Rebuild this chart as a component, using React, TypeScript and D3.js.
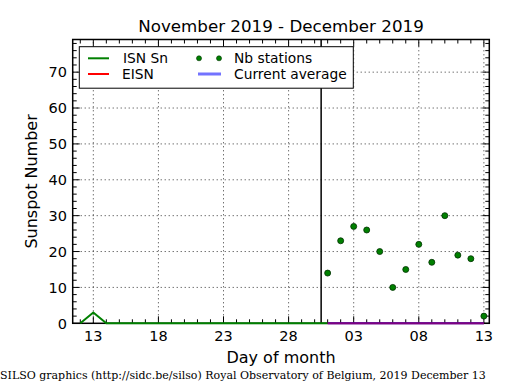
import React, { useEffect, useRef } from 'react';
import * as d3 from 'd3';

// ISN Sn daily values (Nov 12 .. Dec 1)
const isnDays = ["2019-11-12", "2019-11-13", "2019-11-14", "2019-11-15", "2019-11-16", "2019-11-17", "2019-11-18",
	"2019-11-19", "2019-11-20", "2019-11-21", "2019-11-22", "2019-11-23", "2019-11-24", "2019-11-25", "2019-11-26",
	"2019-11-27", "2019-11-28", "2019-11-29", "2019-11-30", "2019-12-01"];
const isnValues = [0, 3, 0, 0, 0, 0, 0, 0, 0, 0, 0, 0, 0, 0, 0, 0, 0, 0, 0, 0];

// EISN / Nb stations / current average (Dec 1 .. Dec 13)
const decDays = ["2019-12-01", "2019-12-02", "2019-12-03", "2019-12-04", "2019-12-05", "2019-12-06", "2019-12-07",
	"2019-12-08", "2019-12-09", "2019-12-10", "2019-12-11", "2019-12-12", "2019-12-13"];
const eisnValues = [0, 0, 0, 0, 0, 0, 0, 0, 0, 0, 0, 0, 0];
const avgValues = [0, 0, 0, 0, 0, 0, 0, 0, 0, 0, 0, 0, 0];
const stationValues = [14, 23, 27, 26, 20, 10, 15, 22, 17, 30, 19, 18, 2];

const xTickDays = ["2019-11-13", "2019-11-18", "2019-11-23", "2019-11-28", "2019-12-03", "2019-12-08", "2019-12-13"];
const yTicks = [0, 10, 20, 30, 40, 50, 60, 70];
const monthSplit = "2019-11-30T12:00";

const parse = (s: string) => new Date(s.length > 10 ? s + ":00Z" : s + "T00:00:00Z");

const drawChart = (node: SVGSVGElement) => {
	const width = 515;
	const height = 390;
	const margin = { top: 39.5, right: 25.7, bottom: 66.7, left: 72.7 };
	const font = "'DejaVu Sans', sans-serif";

	const svg = d3.select(node);
	svg.selectAll("*").remove();
	svg.attr("width", width).attr("height", height);

	svg.append("rect").attr("width", width).attr("height", height).attr("fill", "#ffffff");

	const x = d3.scaleUtc()
		.domain([new Date(Date.UTC(2019, 10, 11, 10, 0)), new Date(Date.UTC(2019, 11, 13, 10, 0))])
		.range([margin.left, width - margin.right]);

	const y = d3.scaleLinear()
		.domain([0, 79.1])
		.range([height - margin.bottom, margin.top]);

	const x0 = margin.left, x1 = width - margin.right;
	const y0 = height - margin.bottom, y1 = margin.top;

	// grid
	const grid = svg.append("g")
		.attr("stroke", "#000")
		.attr("stroke-width", 0.8)
		.attr("stroke-dasharray", "1,3");
	yTicks.filter(v => v > 0).forEach(v => {
		grid.append("line").attr("x1", x0).attr("x2", x1).attr("y1", y(v)).attr("y2", y(v));
	});
	xTickDays.forEach(d => {
		grid.append("line").attr("x1", x(parse(d))).attr("x2", x(parse(d))).attr("y1", y0).attr("y2", y1);
	});

	// ticks (inward, all four sides)
	const ticks = svg.append("g").attr("stroke", "#000").attr("stroke-width", 1);
	const dayTicks = d3.utcDay.range(x.domain()[0], x.domain()[1]);
	dayTicks.forEach(d => {
		const major = xTickDays.some(t => +parse(t) === +d);
		const len = major ? 7 : 4;
		ticks.append("line").attr("x1", x(d)).attr("x2", x(d)).attr("y1", y0).attr("y2", y0 - len);
		ticks.append("line").attr("x1", x(d)).attr("x2", x(d)).attr("y1", y1).attr("y2", y1 + len);
	});
	d3.range(0, 80, 2).forEach(v => {
		const len = v % 10 === 0 ? 7 : 4;
		ticks.append("line").attr("x1", x0).attr("x2", x0 + len).attr("y1", y(v)).attr("y2", y(v));
		ticks.append("line").attr("x1", x1).attr("x2", x1 - len).attr("y1", y(v)).attr("y2", y(v));
	});

	// month separator
	svg.append("line")
		.attr("x1", x(parse(monthSplit))).attr("x2", x(parse(monthSplit)))
		.attr("y1", y0).attr("y2", y1)
		.attr("stroke", "#000").attr("stroke-width", 1.5);

	// frame
	svg.append("rect")
		.attr("x", x0).attr("y", y1)
		.attr("width", x1 - x0).attr("height", y0 - y1)
		.attr("fill", "none").attr("stroke", "#000").attr("stroke-width", 1.5);

	// series
	const line = d3.line<[string, number]>()
		.x(d => x(parse(d[0])))
		.y(d => y(d[1]));

	svg.append("path")
		.datum(isnDays.map((d, i) => [d, isnValues[i]] as [string, number]))
		.attr("fill", "none").attr("stroke", "#008000").attr("stroke-width", 2)
		.attr("d", line);

	svg.append("path")
		.datum(decDays.map((d, i) => [d, eisnValues[i]] as [string, number]))
		.attr("fill", "none").attr("stroke", "#ff0000").attr("stroke-width", 2)
		.attr("d", line);

	svg.append("path")
		.datum(decDays.map((d, i) => [d, avgValues[i]] as [string, number]))
		.attr("fill", "none").attr("stroke", "#0000ff").attr("stroke-opacity", 0.5).attr("stroke-width", 2.5)
		.attr("d", line);

	svg.append("g")
		.selectAll("circle")
		.data(decDays.map((d, i) => [d, stationValues[i]] as [string, number]))
		.join("circle")
		.attr("cx", d => x(parse(d[0])))
		.attr("cy", d => y(d[1]))
		.attr("r", 3)
		.attr("fill", "#008000")
		.attr("stroke", "#003000")
		.attr("stroke-width", 0.8);

	// tick labels
	svg.append("g").selectAll("text")
		.data(xTickDays)
		.join("text")
		.attr("x", d => x(parse(d)))
		.attr("y", 340.7)
		.attr("text-anchor", "middle")
		.style("font-family", font)
		.style("font-size", "14.5px")
		.text(d => d3.utcFormat("%d")(parse(d)));

	svg.append("g").selectAll("text")
		.data(yTicks)
		.join("text")
		.attr("x", 67)
		.attr("y", d => y(d))
		.attr("dy", "0.36em")
		.attr("text-anchor", "end")
		.style("font-family", font)
		.style("font-size", "14.5px")
		.text(d => d);

	// titles
	svg.append("text")
		.attr("x", (x0 + x1) / 2).attr("y", 32.3)
		.attr("text-anchor", "middle")
		.style("font-family", font).style("font-size", "16.7px")
		.text("November 2019 - December 2019");

	svg.append("text")
		.attr("x", (x0 + x1) / 2).attr("y", 362.7)
		.attr("text-anchor", "middle")
		.style("font-family", font).style("font-size", "16px")
		.text("Day of month");

	svg.append("text")
		.attr("transform", `translate(37,${(y0 + y1) / 2}) rotate(-90)`)
		.attr("text-anchor", "middle")
		.style("font-family", font).style("font-size", "16px")
		.text("Sunspot Number");

	svg.append("text")
		.attr("x", 0).attr("y", 379.3)
		.style("font-family", "'DejaVu Serif', serif").style("font-size", "11px")
		.text("SILSO graphics (http://sidc.be/silso) Royal Observatory of Belgium, 2019 December 13");

	// legend
	const lg = svg.append("g");
	lg.append("rect")
		.attr("x", 79.3).attr("y", 46.7).attr("width", 274).attr("height", 41.5)
		.attr("fill", "#fff").attr("stroke", "#000").attr("stroke-width", 1);

	const lf = (t: string, lx: number, ly: number) => lg.append("text")
		.attr("x", lx).attr("y", ly).attr("dy", "0.36em")
		.style("font-family", font).style("font-size", "13.8px")
		.text(t);

	lg.append("line").attr("x1", 88).attr("x2", 109).attr("y1", 58.3).attr("y2", 58.3)
		.attr("stroke", "#008000").attr("stroke-width", 2);
	lf("ISN Sn", 123, 58.3);
	lg.append("line").attr("x1", 88).attr("x2", 109).attr("y1", 74).attr("y2", 74)
		.attr("stroke", "#ff0000").attr("stroke-width", 2);
	lf("EISN", 122, 74);
	[199, 219].forEach(cx => lg.append("circle").attr("cx", cx).attr("cy", 58.3).attr("r", 2.5)
		.attr("fill", "#008000").attr("stroke", "#003000").attr("stroke-width", 0.6));
	lf("Nb stations", 234, 58.3);
	lg.append("line").attr("x1", 198).attr("x2", 221).attr("y1", 74).attr("y2", 74)
		.attr("stroke", "#0000ff").attr("stroke-opacity", 0.55).attr("stroke-width", 3);
	lf("Current average", 234, 74);
};

export default function App() {
	const ref = useRef<SVGSVGElement>(null);
	useEffect(() => {
		if (ref.current) drawChart(ref.current);
	}, []);
	return (
		<svg ref={ref} width={515} height={390} style={{ position: 'absolute', left: 0, top: 0 }} />
	);
}
